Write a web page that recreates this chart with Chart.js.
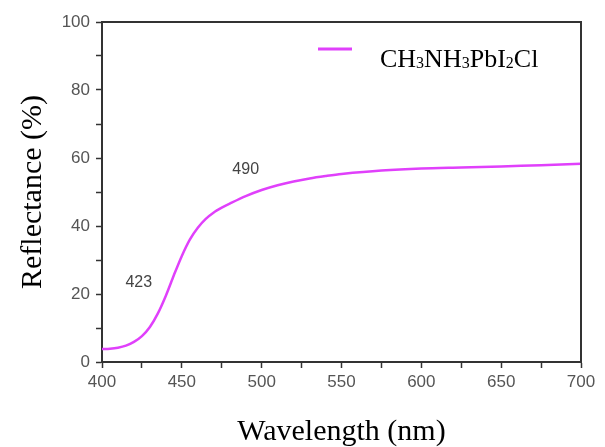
<!DOCTYPE html>
<html>
<head>
<meta charset="utf-8">
<script src="https://cdn.jsdelivr.net/npm/chart.js@4"></script>
<style>
	body { margin: 0; background: #fff; }
	canvas { display: block; }
</style>
</head>
<body>
<canvas id="chart" width="605" height="447"></canvas>
<script>
// Reflectance spectrum
const wavelengths = [400, 405, 410, 415, 420, 425, 430, 435, 440, 445, 450, 455, 460, 465, 470, 475, 480, 490, 500, 510, 520, 530, 540, 550, 575, 600, 625, 650, 675, 700];
const reflectance = [3.8, 3.9, 4.2, 4.8, 5.9, 7.6, 10.3, 14.3, 19.5, 25.5, 31.2, 36.0, 39.5, 42.1, 44.0, 45.4, 46.6, 48.8, 50.6, 52.0, 53.1, 54.0, 54.7, 55.3, 56.3, 56.9, 57.2, 57.5, 57.9, 58.3];
const xTickLabels = [400, 450, 500, 550, 600, 650, 700];
const yTickLabels = [0, 20, 40, 60, 80, 100];
// text marks on the plot: [text, wavelength, reflectance]
const notes = [["423", 423, 23.5], ["490", 490, 56.5]];
// legend name split into [text, isSubscript]
const seriesName = [["CH", false], ["3", true], ["NH", false], ["3", true], ["PbI", false], ["2", true], ["Cl", false]];

const lineColor = "#e040fb";
const axisColor = "#333333";
const tickFont = { family: "Liberation Sans, Arial", size: 17 };
const titleFont = { family: "Liberation Serif, Times New Roman", size: 30 };

// Frame on top and right, plus the notes and legend
const extras = {
	id: "extras",
	afterDraw(chart) {
		const { ctx, chartArea: a, scales } = chart;
		ctx.save();
		ctx.strokeStyle = axisColor;
		ctx.lineWidth = 2;
		ctx.beginPath();
		ctx.moveTo(a.left, a.top);
		ctx.lineTo(a.right, a.top);
		ctx.lineTo(a.right, a.bottom);
		ctx.stroke();

		// notes
		ctx.fillStyle = "#444";
		ctx.font = "16px Liberation Sans, Arial";
		ctx.textAlign = "center";
		ctx.textBaseline = "middle";
		notes.forEach(([t, x, y]) => {
			ctx.fillText(t, scales.x.getPixelForValue(x), scales.y.getPixelForValue(y));
		});

		// legend
		const lx = a.left + 216, ly = a.top + 27;
		ctx.strokeStyle = lineColor;
		ctx.lineWidth = 3;
		ctx.beginPath();
		ctx.moveTo(lx, ly);
		ctx.lineTo(lx + 34, ly);
		ctx.stroke();
		ctx.fillStyle = "#000";
		ctx.textAlign = "left";
		ctx.textBaseline = "alphabetic";
		let tx = lx + 62;
		const base = ly + 18;
		seriesName.forEach(([t, sub]) => {
			ctx.font = sub ? "16px Liberation Serif, Times New Roman" : "26px Liberation Serif, Times New Roman";
			ctx.fillText(t, tx, sub ? base + 1 : base);
			tx += ctx.measureText(t).width;
		});
		ctx.restore();
	}
};

const ctx = document.getElementById("chart").getContext("2d");
const chart = new Chart(ctx, {
	type: "line",
	data: {
		datasets: [
			{
				label: "CH3NH3PbI2Cl",
				data: wavelengths.map((w, i) => ({ x: w, y: reflectance[i] })),
				borderColor: lineColor,
				borderWidth: 2.5,
				pointRadius: 0,
				tension: 0.3,
				fill: false,
			},
		],
	},
	options: {
		responsive: false,
		animation: false,
		layout: { padding: { top: 22, right: 24, left: 0, bottom: 0 } },
		plugins: { legend: { display: false }, tooltip: { enabled: false } },
		scales: {
			x: {
				type: "linear",
				min: 400,
				max: 700,
				afterFit: s => { s.height = 85; },
				afterBuildTicks: s => {
					s.ticks = [];
					for (let v = 400; v <= 700; v += 25) s.ticks.push({ value: v });
				},
				ticks: {
					autoSkip: false,
					maxRotation: 0,
					color: "#555",
					font: tickFont,
					padding: 4,
					callback: v => (xTickLabels.includes(v) ? v : ""),
				},
				grid: { drawOnChartArea: false, tickLength: 6, tickColor: axisColor, tickWidth: 1.5 },
				border: { color: axisColor, width: 2 },
				title: { display: true, text: "Wavelength (nm)", color: "#000", font: titleFont, padding: { top: 0, bottom: -3 } },
			},
			y: {
				min: 0,
				max: 100,
				afterFit: s => { s.width = 102; },
				afterBuildTicks: s => {
					s.ticks = [];
					for (let v = 0; v <= 100; v += 10) s.ticks.push({ value: v });
				},
				ticks: {
					autoSkip: false,
					color: "#555",
					font: tickFont,
					padding: 6,
					callback: v => (yTickLabels.includes(v) ? v : ""),
				},
				grid: { drawOnChartArea: false, tickLength: 6, tickColor: axisColor, tickWidth: 1.5 },
				border: { color: axisColor, width: 2 },
				title: { display: true, text: "Reflectance (%)", color: "#000", font: titleFont, padding: { top: 15, bottom: 0 } },
			},
		},
	},
	plugins: [extras],
});
</script>
</body>
</html>
